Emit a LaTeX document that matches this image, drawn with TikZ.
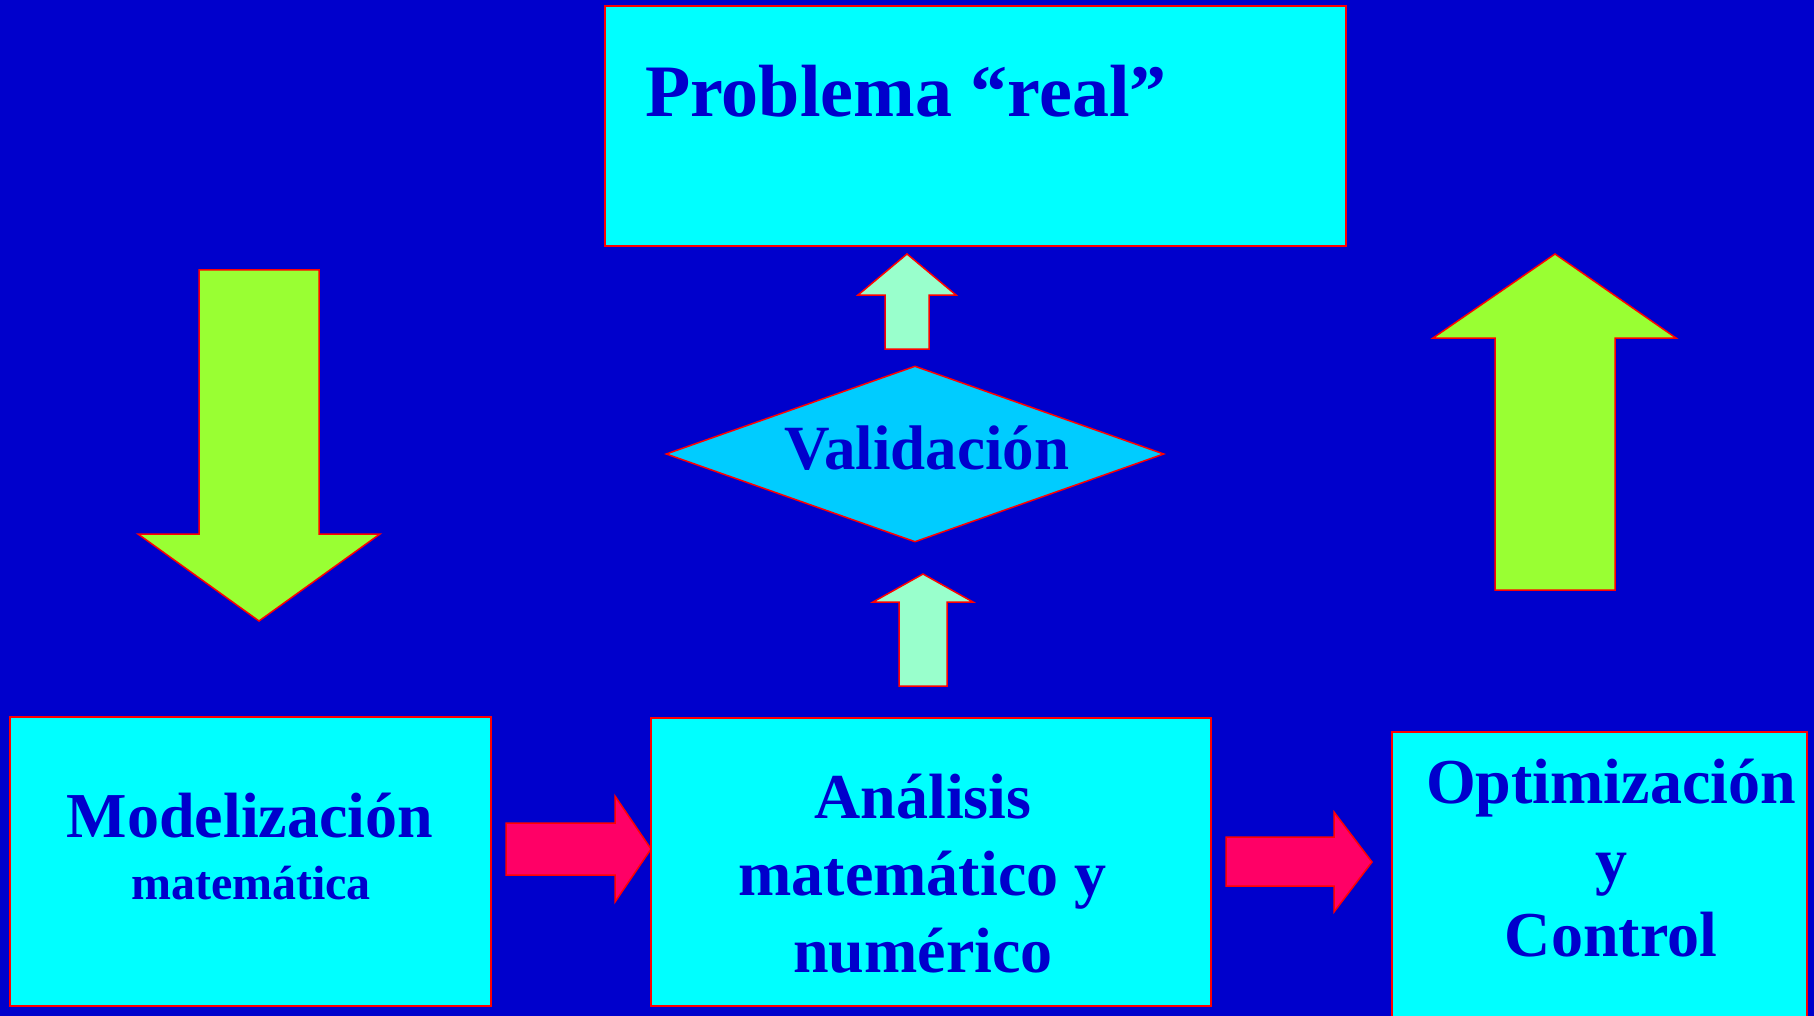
\documentclass[tikz,border=0pt]{standalone}
\usepackage{fontspec}
\setmainfont{Liberation Serif}
\usetikzlibrary{shapes.geometric}

\definecolor{fondo}{HTML}{0000CC}
\definecolor{cian}{HTML}{00FFFF}
\definecolor{celeste}{HTML}{00CCFF}
\definecolor{menta}{HTML}{99FFCC}
\definecolor{lima}{HTML}{99FF33}
\definecolor{fucsia}{HTML}{FF0066}
\definecolor{borde}{HTML}{FF0000}

\begin{document}
\begin{tikzpicture}[
    x=1pt,y=-1pt,
    caja/.style={rectangle,draw=borde,line width=1.5pt,fill=cian,inner sep=0pt},
    flecha/.style={draw=borde,line width=1.5pt,line join=miter},
    texto/.style={text=fondo,inner sep=0pt,anchor=base,font=\bfseries\fontsize{64}{77}\selectfont}
]

\fill[fondo] (0,0) rectangle (1814,1016);
\useasboundingbox (0,0) rectangle (1814,1016);

\node[caja,minimum width=741pt,minimum height=240pt] (problema) at (975.5,126) {};
\node[caja,minimum width=481pt,minimum height=289pt] (modelo) at (250.5,861.5) {};
\node[caja,minimum width=560pt,minimum height=288pt] (analisis) at (931,862) {};
\node[caja,minimum width=415pt,minimum height=300pt] (optim) at (1599.5,882) {};
\node[diamond,draw=borde,line width=1.5pt,fill=celeste,inner sep=0pt,
      minimum width=498pt,minimum height=176pt] (valida) at (915,454) {};

\draw[flecha,fill=lima] (199,270) -- (319,270) -- (319,534) -- (380,534) -- (259,621)
    -- (138,534) -- (199,534) -- cycle;
\draw[flecha,fill=lima] (1495,590) -- (1615,590) -- (1615,338) -- (1676,338) -- (1555,254)
    -- (1433,338) -- (1495,338) -- cycle;
\draw[flecha,fill=menta] (885,349) -- (929,349) -- (929,295) -- (956,295) -- (907,254)
    -- (858,295) -- (885,295) -- cycle;
\draw[flecha,fill=menta] (899,686) -- (947,686) -- (947,602) -- (973,602) -- (923,574)
    -- (873,602) -- (899,602) -- cycle;
\draw[flecha,fill=fucsia] (506,823) -- (615,823) -- (615,796) -- (651,849) -- (615,902)
    -- (615,875) -- (506,875) -- cycle;
\draw[flecha,fill=fucsia] (1226,837) -- (1334,837) -- (1334,812) -- (1372,862) -- (1334,912)
    -- (1334,886) -- (1226,886) -- cycle;

\node[texto,anchor=base west,font=\bfseries\fontsize{74}{89}\selectfont] (tproblema) at (645,117) {Problema “real”};
\node[texto,font=\bfseries\fontsize{63}{76}\selectfont] (tvalida) at (927,469) {Validación};

\node[texto] (tmodelo1) at (250,837) {Modelización};
\node[texto,font=\bfseries\fontsize{48}{58}\selectfont] (tmodelo2) at (251,899) {matemática};

\node[texto] (tanalisis1) at (923,818) {Análisis};
\node[texto] (tanalisis2) at (922.5,895) {matemático y};
\node[texto] (tanalisis3) at (923,972) {numérico};

\node[texto] (toptim1) at (1611,803) {Optimización};
\node[texto] (toptim2) at (1611,882) {y};
\node[texto] (toptim3) at (1611,956) {Control};

\end{tikzpicture}
\end{document}
